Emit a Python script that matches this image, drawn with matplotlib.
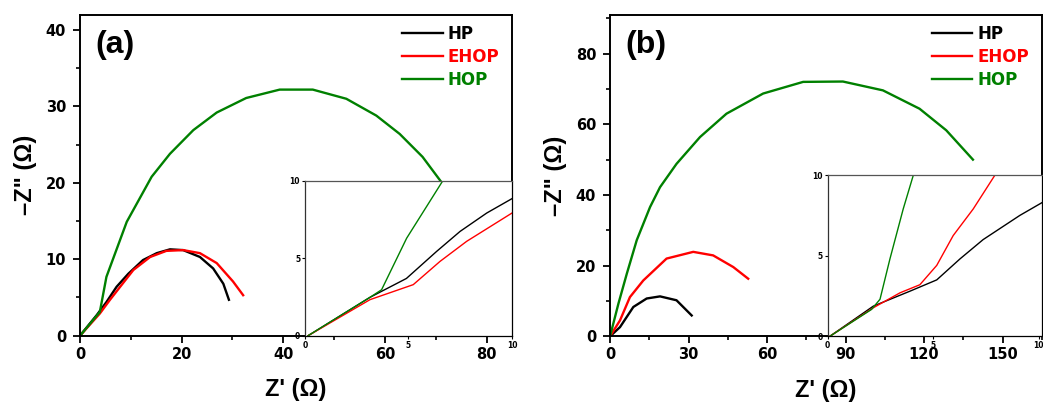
import matplotlib
matplotlib.use('Agg')
import matplotlib.pyplot as plt
from matplotlib.ticker import MultipleLocator

plt.rcParams['font.family'] = ['DejaVu Sans']
plt.rcParams['font.weight'] = 'bold'

labels = ['HP', 'EHOP', 'HOP']
colors = ['black', 'red', '#008000']

# panel (a) main
a_hp_x = [0, 3.3, 5.2, 7.2, 9.5, 12.4, 15.1, 17.7, 20.3, 23.6, 26.2, 28.2, 29.3]
a_hp_y = [0, 2.7, 4.4, 6.4, 8.1, 9.9, 10.8, 11.3, 11.2, 10.3, 8.8, 6.8, 4.7]
a_ehop_x = [0, 3.9, 5.9, 7.9, 10.5, 13.8, 17.0, 20.3, 23.6, 26.9, 30.1, 32.1]
a_ehop_y = [0, 2.9, 4.7, 6.4, 8.6, 10.3, 11.1, 11.2, 10.8, 9.5, 7.1, 5.3]
a_hop_x = [0, 3.9, 5.2, 9.2, 14.1, 17.7, 22.3, 26.9, 32.7, 39.3, 45.8, 52.4, 58.3, 62.9, 67.4, 71.1]
a_hop_y = [0, 3.1, 7.7, 14.9, 20.8, 23.8, 26.9, 29.2, 31.1, 32.2, 32.2, 31.0, 28.8, 26.4, 23.4, 20.1]

# panel (a) inset
ai_hp_x = [0.15, 3.14, 4.9, 6.36, 7.49, 8.78, 10.0]
ai_hp_y = [0, 2.48, 3.7, 5.45, 6.74, 7.93, 8.86]
ai_ehop_x = [0.15, 3.14, 5.23, 6.52, 7.81, 10.0]
ai_ehop_y = [0, 2.33, 3.3, 4.8, 6.1, 7.93]
ai_hop_x = [0.15, 3.14, 3.7, 4.91, 6.65]
ai_hop_y = [0, 2.48, 2.97, 6.3, 10.0]

# panel (b) main
b_hp_x = [0, 3.8, 8.9, 14.0, 19.1, 25.4, 31.2]
b_hp_y = [0, 2.6, 8.3, 10.7, 11.3, 10.2, 5.9]
b_ehop_x = [0, 3.8, 7.6, 12.7, 21.6, 31.8, 39.4, 47.1, 52.8]
b_ehop_y = [0, 4.5, 11.1, 15.8, 22.0, 23.9, 22.9, 19.6, 16.3]
b_hop_x = [0, 3.2, 6.4, 10.2, 15.3, 19.1, 25.4, 34.4, 44.5, 58.5, 73.8, 89.0, 104.3, 118.3, 128.5, 138.7]
b_hop_y = [0, 9.25, 17.7, 27.2, 36.6, 42.2, 48.8, 56.4, 63.0, 68.7, 72.0, 72.1, 69.6, 64.4, 58.3, 50.0]

# panel (b) inset
bi_hp_x = [0.1, 2.16, 3.9, 5.17, 6.27, 7.37, 9.11, 10.17]
bi_hp_y = [0, 1.87, 2.8, 3.5, 4.8, 6.0, 7.5, 8.3]
bi_ehop_x = [0.1, 2.16, 3.43, 4.37, 5.17, 5.95, 6.9, 7.93]
bi_ehop_y = [0, 1.77, 2.7, 3.2, 4.4, 6.25, 7.9, 10.0]
bi_hop_x = [0.1, 2.08, 2.48, 2.95, 3.58, 4.06]
bi_hop_y = [0, 1.67, 2.3, 4.8, 7.9, 10.0]

fig = plt.figure(figsize=(10.43, 4.05), dpi=100)
arial = ['Liberation Sans', 'DejaVu Sans']


def style_main(ax, xmax, ymax, xmaj, ymaj, tag):
    ax.set_xlim(0, xmax)
    ax.set_ylim(0, ymax)
    ax.xaxis.set_major_locator(MultipleLocator(xmaj))
    ax.xaxis.set_minor_locator(MultipleLocator(xmaj / 2))
    ax.yaxis.set_major_locator(MultipleLocator(ymaj))
    ax.yaxis.set_minor_locator(MultipleLocator(ymaj / 2))
    ax.tick_params(which='major', direction='out', length=5, width=1.3, labelsize=10.5)
    ax.tick_params(axis='x', which='major', pad=3)
    ax.tick_params(axis='y', which='major', pad=5)
    ax.tick_params(which='minor', direction='out', length=3, width=1.2)
    for s in ax.spines.values():
        s.set_linewidth(1.4)
    ax.set_xlabel("Z' (\u03a9)", fontsize=17, fontweight='bold', family=arial, labelpad=12)
    ax.set_ylabel('\u2013Z" (\u03a9)', fontsize=17, fontweight='bold', family=arial, labelpad=6)
    ax.text(0.035, 0.906, tag, transform=ax.transAxes, fontsize=23, fontweight='bold',
            family=arial, va='center')
    ax.legend(loc='upper left', frameon=False, handlelength=2.45, handletextpad=0.3,
              labelspacing=0.3, borderaxespad=0, borderpad=0, labelcolor='linecolor',
              prop={'weight': 'bold', 'size': 12}, bbox_to_anchor=(0.745, 0.968))


def style_inset(ax, ticks):
    ax.set_xlim(0, 10)
    ax.set_ylim(0, 10)
    ax.set_xticks(ticks)
    ax.set_yticks([0, 5, 10])
    ax.tick_params(direction='out', length=2, width=0.8, labelsize=5.5, pad=1.5)
    ax.spines['top'].set_color('#555555')
    ax.spines['left'].set_color('#333333')
    for s in ax.spines.values():
        s.set_linewidth(0.9)
    ax.set_facecolor('white')


# (a)
ax1 = fig.add_axes([0.0767, 0.1711, 0.4142, 0.7926])
ax1.plot(a_hp_x, a_hp_y, color=colors[0], lw=1.7, label=labels[0])
ax1.plot(a_ehop_x, a_ehop_y, color=colors[1], lw=1.7, label=labels[1])
ax1.plot(a_hop_x, a_hop_y, color=colors[2], lw=1.7, label=labels[2])
style_main(ax1, 85, 42, 20, 10, '(a)')

in1 = fig.add_axes([0.2924, 0.1711, 0.1985, 0.382])
in1.plot(ai_hp_x, ai_hp_y, color=colors[0], lw=1.0)
in1.plot(ai_ehop_x, ai_ehop_y, color=colors[1], lw=1.0)
in1.plot(ai_hop_x, ai_hop_y, color=colors[2], lw=1.0)
style_inset(in1, [0, 5, 10])

# (b)
ax2 = fig.add_axes([0.5849, 0.1696, 0.4139, 0.7940])
ax2.plot(b_hp_x, b_hp_y, color=colors[0], lw=1.7, label=labels[0])
ax2.plot(b_ehop_x, b_ehop_y, color=colors[1], lw=1.7, label=labels[1])
ax2.plot(b_hop_x, b_hop_y, color=colors[2], lw=1.7, label=labels[2])
style_main(ax2, 165, 91, 30, 20, '(b)')

in2 = fig.add_axes([0.7936, 0.1696, 0.2052, 0.398])
in2.plot(bi_hp_x, bi_hp_y, color=colors[0], lw=1.0)
in2.plot(bi_ehop_x, bi_ehop_y, color=colors[1], lw=1.0)
in2.plot(bi_hop_x, bi_hop_y, color=colors[2], lw=1.0)
style_inset(in2, [0, 5, 10])
in2.set_xlim(0, 10.15)

fig.savefig('out.png', dpi=100)
